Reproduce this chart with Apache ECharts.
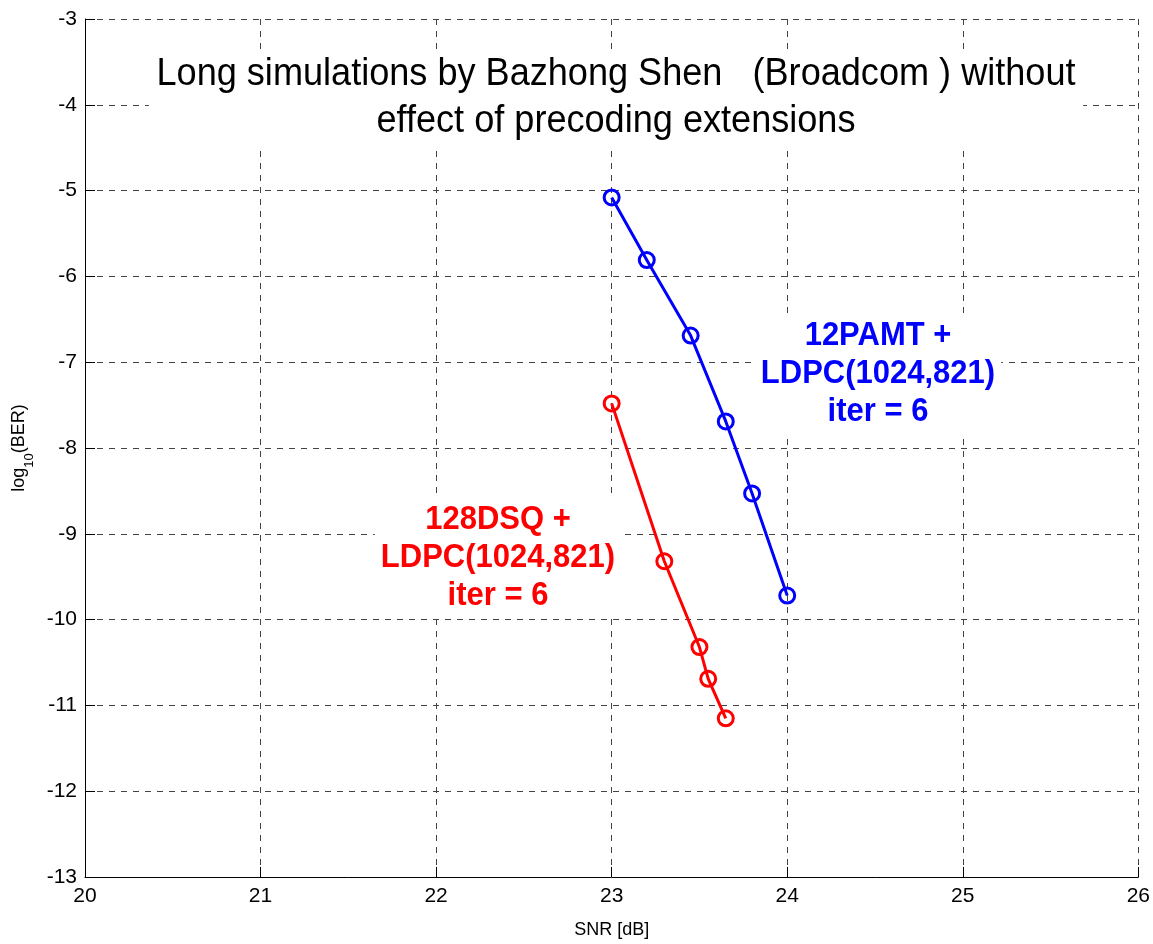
<!DOCTYPE html>
<html lang="en">
<head>
    <meta charset="utf-8"/>
    <title>BER vs SNR</title>
    <script src="https://cdn.jsdelivr.net/npm/echarts@6/dist/echarts.min.js"></script>
    <style>
        html, body { margin: 0; padding: 0; background: #fff; }
        #main { width: 1153px; height: 944px; }
    </style>
</head>
<body>
<div id="main"></div>
<script>
    // SNR [dB] / log10(BER)
    const pamtSnr = [23.0, 23.2, 23.45, 23.65, 23.8, 24.0];
    const pamtBer = [-5.08, -5.81, -6.69, -7.69, -8.53, -9.72];
    const dsqSnr = [23.0, 23.3, 23.5, 23.55, 23.65];
    const dsqBer = [-7.48, -9.32, -10.32, -10.69, -11.15];

    const titleLines = ['Long simulations by Bazhong Shen   (Broadcom ) without', 'effect of precoding extensions'];
    const pamtLabel = ['12PAMT +', 'LDPC(1024,821)', 'iter = 6'];
    const dsqLabel = ['128DSQ +', 'LDPC(1024,821)', 'iter = 6'];

    const font = '"Liberation Sans", Arial, sans-serif';
    const chart = echarts.init(document.getElementById('main'));

    function pairs(xs, ys) {
        return xs.map(function (x, i) { return [x, ys[i]]; });
    }

    function line(name, color, xs, ys) {
        return {
            type: 'line', name: name, data: pairs(xs, ys),
            symbol: 'circle', symbolSize: 15, showSymbol: true,
            lineStyle: { color: color, width: 3 },
            itemStyle: { color: 'transparent', borderColor: color, borderWidth: 3 },
            z: 5
        };
    }

    function label(lines, color, x, y) {
        return {
            type: 'text', x: x, y: y, z: 50, scaleY: 1.05,
            style: {
                text: lines.join('\n'), fill: color, font: 'bold 31px ' + font,
                align: 'center', verticalAlign: 'middle', lineHeight: 36,
                backgroundColor: '#fff', padding: [4, 6, 4, 6]
            }
        };
    }

    const option = {
        animation: false,
        backgroundColor: '#fff',
        grid: { left: 85, top: 19, right: 12, bottom: 66 },
        xAxis: {
            type: 'value', min: 20, max: 26, interval: 1,
            name: 'SNR [dB]', nameLocation: 'middle', nameGap: 44,
            nameTextStyle: { color: '#000', fontSize: 18, fontFamily: font },
            axisLine: { show: true, lineStyle: { color: '#000', width: 1 } },
            axisTick: { show: true, inside: true, length: 10, lineStyle: { color: '#000' } },
            axisLabel: { color: '#000', fontSize: 21, fontFamily: font, margin: 9 },
            splitLine: { show: true, lineStyle: { color: '#444', type: [6, 6], width: 1 } }
        },
        yAxis: {
            type: 'value', min: -13, max: -3, interval: 1,
            name: '{a|log}{s|10}{a|(BER)}', nameLocation: 'middle', nameGap: 54,
            nameTextStyle: {
                color: '#000', fontFamily: font,
                rich: {
                    a: { fontSize: 18, fontFamily: font, color: '#000' },
                    s: { fontSize: 13, fontFamily: font, color: '#000', verticalAlign: 'bottom', padding: [0, 0, -8, 0] }
                }
            },
            axisLine: { show: true, lineStyle: { color: '#000', width: 1 } },
            axisTick: { show: true, inside: true, length: 10, lineStyle: { color: '#000' } },
            axisLabel: { color: '#000', fontSize: 21, fontFamily: font, margin: 8 },
            splitLine: { show: true, lineStyle: { color: '#444', type: [6, 6], width: 1 } }
        },
        series: [
            line('12PAMT', '#0000ff', pamtSnr, pamtBer),
            line('128DSQ', '#ff0000', dsqSnr, dsqBer)
        ],
        graphic: [
            {
                type: 'text', x: 616, y: 98, z: 50, scaleX: 0.95,
                style: {
                    text: titleLines.join('\n'), fill: '#000', font: '38px ' + font,
                    align: 'center', verticalAlign: 'middle', lineHeight: 47,
                    backgroundColor: '#fff', padding: [0, 8, 0, 8]
                }
            },
            label(pamtLabel, '#0000ff', 878, 374),
            label(dsqLabel, '#ff0000', 498, 558)
        ]
    };
    chart.setOption(option);
</script>
</body>
</html>
